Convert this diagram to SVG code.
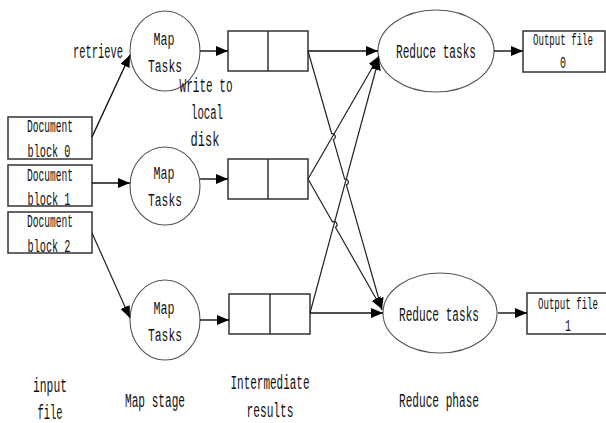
<svg xmlns="http://www.w3.org/2000/svg" width="606" height="423" viewBox="0 0 606 423">
<style>
text{font-family:"Liberation Mono","DejaVu Sans Mono",monospace;fill:#111;text-anchor:middle}
.lbl{font-size:20px}
.doc{font-size:18px}
.mt{font-size:19px}
.rd{font-size:20px}
.of{font-size:17px}
.box{fill:#fff;stroke:#333;stroke-width:1.5}
.ell{fill:#fff;stroke:#555;stroke-width:1.1}
.con{fill:none;stroke:#111;stroke-width:1.4;marker-end:url(#ah)}
.thin{fill:none;stroke:#222;stroke-width:1.2;marker-end:url(#ah)}
</style>
<defs>
<marker id="ah" markerUnits="userSpaceOnUse" markerWidth="13" markerHeight="11" refX="12" refY="5" orient="auto">
<path d="M0,0 L12,5 L0,10 z" fill="#000"/>
</marker>
</defs>
<rect width="606" height="423" fill="#fff"/>

<g id="doc0"><rect class="box" x="8" y="117" width="84" height="42"/>
<text class="doc" x="50" y="132" textLength="46" lengthAdjust="spacingAndGlyphs">Document</text>
<text class="doc" x="49" y="157" textLength="43" lengthAdjust="spacingAndGlyphs">block 0</text></g>
<g id="doc1"><rect class="box" x="8" y="165" width="84" height="41"/>
<text class="doc" x="50" y="181" textLength="46" lengthAdjust="spacingAndGlyphs">Document</text>
<text class="doc" x="49" y="205" textLength="43" lengthAdjust="spacingAndGlyphs">block 1</text></g>
<g id="doc2"><rect class="box" x="8" y="212" width="84" height="41"/>
<text class="doc" x="50" y="227" textLength="46" lengthAdjust="spacingAndGlyphs">Document</text>
<text class="doc" x="49" y="252" textLength="43" lengthAdjust="spacingAndGlyphs">block 2</text></g>

<g id="map0"><ellipse class="ell" cx="165" cy="51" rx="35" ry="40"/>
<text class="mt" x="164" y="45" textLength="21" lengthAdjust="spacingAndGlyphs">Map</text>
<text class="mt" x="165" y="72" textLength="34" lengthAdjust="spacingAndGlyphs">Tasks</text></g>
<g id="map1"><ellipse class="ell" cx="165" cy="186" rx="35" ry="39"/>
<text class="mt" x="164" y="179" textLength="21" lengthAdjust="spacingAndGlyphs">Map</text>
<text class="mt" x="165" y="206" textLength="34" lengthAdjust="spacingAndGlyphs">Tasks</text></g>
<g id="map2"><ellipse class="ell" cx="165" cy="320" rx="35" ry="40"/>
<text class="mt" x="164" y="314" textLength="21" lengthAdjust="spacingAndGlyphs">Map</text>
<text class="mt" x="165" y="341" textLength="34" lengthAdjust="spacingAndGlyphs">Tasks</text></g>

<g id="inter0"><rect class="box" x="228" y="31" width="80" height="40"/><line x1="268" y1="31" x2="268" y2="71" stroke="#333" stroke-width="1.5"/></g>
<g id="inter1"><rect class="box" x="228" y="159" width="80" height="40"/><line x1="268" y1="159" x2="268" y2="199" stroke="#333" stroke-width="1.5"/></g>
<g id="inter2"><rect class="box" x="229" y="294" width="81" height="40"/><line x1="270" y1="294" x2="270" y2="334" stroke="#333" stroke-width="1.5"/></g>

<g id="reduce0"><ellipse class="ell" cx="436" cy="51" rx="58" ry="41"/>
<text class="rd" x="436" y="58" textLength="80" lengthAdjust="spacingAndGlyphs">Reduce tasks</text></g>
<g id="reduce1"><ellipse class="ell" cx="440" cy="313" rx="57" ry="40"/>
<text class="rd" x="439" y="321" textLength="80" lengthAdjust="spacingAndGlyphs">Reduce tasks</text></g>

<g id="out0"><rect class="box" x="523" y="31" width="82" height="41"/>
<text class="of" x="563" y="45" textLength="60" lengthAdjust="spacingAndGlyphs">Output file</text>
<text class="of" x="563" y="68" textLength="6" lengthAdjust="spacingAndGlyphs">0</text></g>
<g id="out1"><rect class="box" x="527" y="293" width="84" height="41"/>
<text class="of" x="568" y="309" textLength="60" lengthAdjust="spacingAndGlyphs">Output file</text>
<text class="of" x="568" y="331" textLength="6" lengthAdjust="spacingAndGlyphs">1</text></g>

<g id="connectors">
<line class="con" x1="92" y1="137" x2="130" y2="55"/>
<line class="con" x1="92" y1="183" x2="130" y2="183"/>
<line class="thin" x1="92" y1="233" x2="130" y2="318"/>
<line class="con" x1="200" y1="51" x2="228" y2="51"/>
<line class="con" x1="200" y1="179" x2="228" y2="179"/>
<line class="con" x1="200" y1="320" x2="229" y2="320"/>
<line class="con" x1="308" y1="51" x2="378" y2="51"/>
<path class="thin" d="M308,51 L331.68,133.72 A3,3 0 0 1 333.32,139.48 L344.68,179.12 A3,3 0 0 1 346.32,184.88 L382,310"/>
<line class="thin" x1="308" y1="179" x2="379" y2="56"/>
<path class="thin" d="M308,179 L332.52,221.99 A3,3 0 0 1 335.48,227.21 L382,309"/>
<line class="thin" x1="310" y1="313" x2="379" y2="58"/>
<line class="con" x1="310" y1="313" x2="383" y2="313"/>
<line class="con" x1="494" y1="51" x2="523" y2="51"/>
<line class="con" x1="498" y1="313" x2="527" y2="313"/>
</g>

<g id="labels">
<text class="lbl" x="98" y="58" textLength="50" lengthAdjust="spacingAndGlyphs">retrieve</text>
<text class="lbl" x="206" y="92" textLength="53" lengthAdjust="spacingAndGlyphs">Write to</text>
<text class="lbl" x="207" y="119" textLength="32" lengthAdjust="spacingAndGlyphs">local</text>
<text class="lbl" x="205" y="146" textLength="29" lengthAdjust="spacingAndGlyphs">disk</text>
<text class="lbl" x="50" y="392" textLength="34" lengthAdjust="spacingAndGlyphs">input</text>
<text class="lbl" x="50" y="419" textLength="25" lengthAdjust="spacingAndGlyphs">file</text>
<text class="lbl" x="155" y="407" textLength="60" lengthAdjust="spacingAndGlyphs">Map stage</text>
<text class="lbl" x="270" y="389" textLength="79" lengthAdjust="spacingAndGlyphs">Intermediate</text>
<text class="lbl" x="270" y="417" textLength="47" lengthAdjust="spacingAndGlyphs">results</text>
<text class="lbl" x="439" y="407" textLength="80" lengthAdjust="spacingAndGlyphs">Reduce phase</text>
</g>
</svg>
